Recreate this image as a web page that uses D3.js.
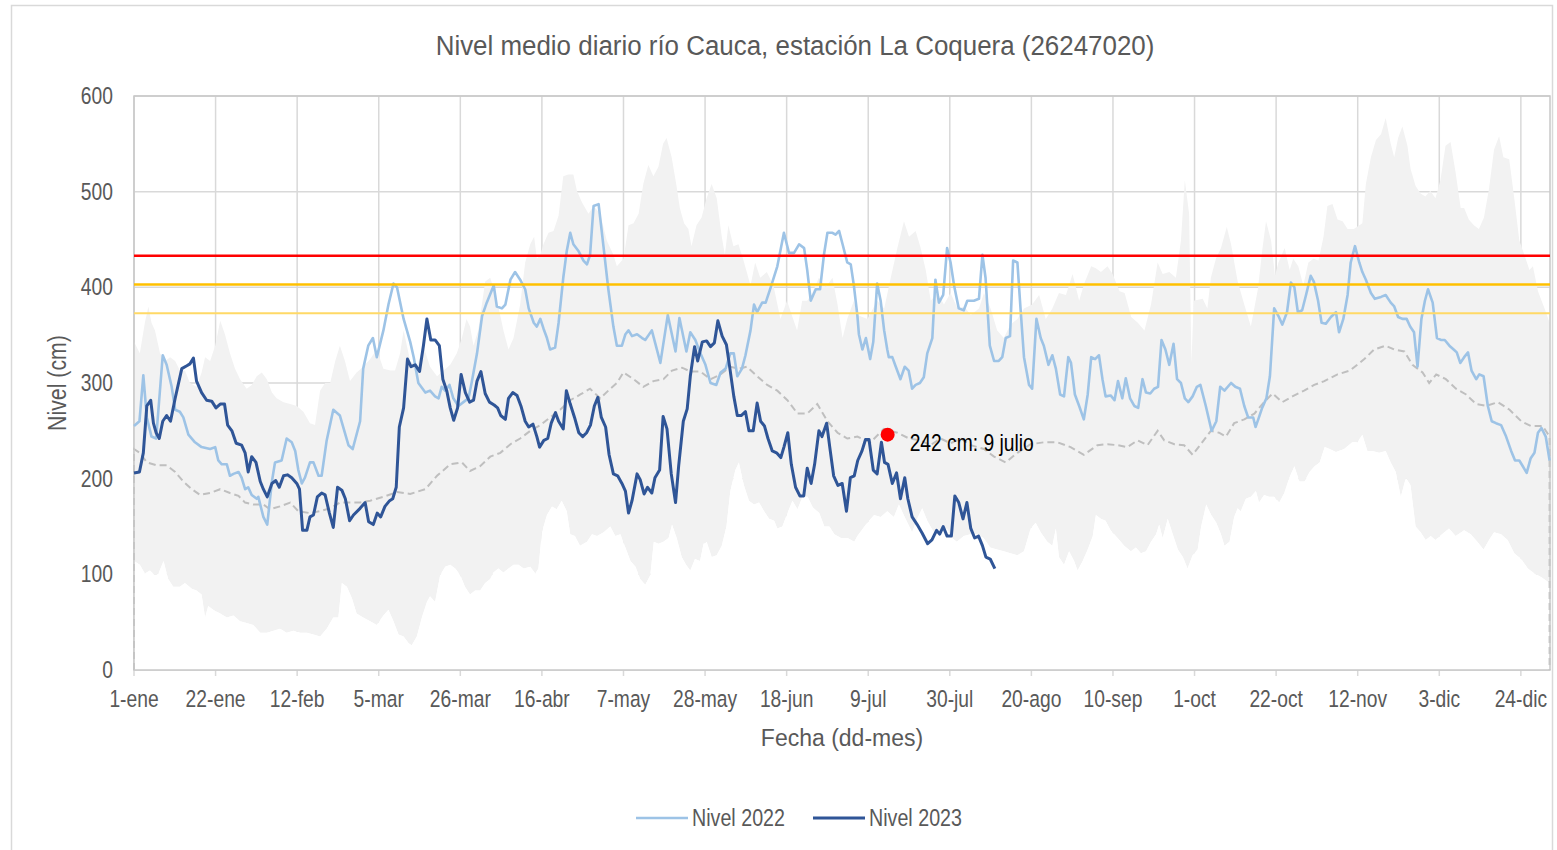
<!DOCTYPE html>
<html>
<head>
<meta charset="utf-8">
<script src="https://cdn.jsdelivr.net/npm/d3@7"></script>
<style>
  body { margin: 0; background: #fff; }
  svg text { font-family: "Liberation Sans", Arial, sans-serif; }
</style>
</head>
<body>
<svg id="chart" width="1557" height="850"></svg>
<script>
// dias del año (0 = 1-ene), niveles en cm
var tickDias = [0, 21, 42, 63, 84, 105, 126, 147, 168, 189, 210, 231, 252, 273, 294, 315, 336, 357];
var tickLabels = ['1-ene', '22-ene', '12-feb', '5-mar', '26-mar', '16-abr', '7-may', '28-may', '18-jun',
                  '9-jul', '30-jul', '20-ago', '10-sep', '1-oct', '22-oct', '12-nov', '3-dic', '24-dic'];
var yTicks = [0, 100, 200, 300, 400, 500, 600];

// umbrales de alerta
var umbrales = [
  {valor: 433, color: '#FF0000', ancho: 2.5},
  {valor: 403, color: '#FFC000', ancho: 2.5},
  {valor: 373, color: '#FFD966', ancho: 2}
];

var nivel2022 = [[0,255],[1.4,260],[2.4,308],[3.3,264],[4.5,244],[5.7,242],[7.4,329],[8.4,319],[9.7,296],[10.6,272],[11.8,270],[12.7,264],[14,246],[15.7,238],[17.4,233],[19.6,231],[20.9,233],[21.7,219],[22.6,215],[23.9,215],[24.7,203],[25.6,205],[26.9,207],[27.7,201],[28.6,189],[29.4,191],[30.3,183],[31.6,179],[32,181],[33.3,160],[34.3,152],[35.5,197],[36.3,217],[38,219],[39.3,242],[40.6,238],[41.5,229],[42.3,209],[43.2,195],[44,201],[45.3,217],[46.2,217],[47.5,203],[48.3,203],[49.6,240],[51.3,272],[53,266],[55.2,235],[56.3,231],[58.2,260],[59,315],[60.3,339],[61.5,347],[62.5,327],[64.2,355],[65.5,382],[66.8,404],[67.7,400],[69.4,367],[71.1,343],[72,327],[73.2,300],[75,290],[76.2,292],[77.5,286],[78.4,284],[79.2,296],[80.1,292],[81.2,298],[82.2,284],[83.5,276],[84.8,280],[86.1,284],[86.9,300],[88.3,331],[89.6,370],[90.8,384],[92.6,402],[93.4,380],[94.7,378],[95.6,382],[96.9,408],[98.1,416],[99.4,408],[100.7,398],[101.6,378],[102.9,363],[103.7,359],[104.6,367],[105.4,357],[106.3,347],[107.1,335],[108.4,337],[109.3,363],[110.5,410],[111.4,438],[112.3,457],[113.1,445],[114.4,438],[115.7,428],[116.6,424],[117.4,434],[118.3,485],[119.6,487],[120.9,441],[122.1,398],[123.4,359],[124.3,339],[125.6,339],[126.5,351],[127.3,355],[128.2,349],[129.5,351],[130.8,347],[131.6,345],[133.3,355],[135.5,321],[137.4,371],[139.4,333],[140.4,368],[142.2,333],[143.2,353],[144.5,345],[145.8,331],[147.1,319],[148.4,300],[149.9,298],[151,311],[152.3,315],[153.5,331],[154.4,331],[155.3,307],[156.5,315],[157.4,329],[158.7,355],[159.6,382],[160.4,374],[161.7,384],[162.6,384],[163.9,400],[165.6,422],[167.3,457],[168.6,436],[169.9,436],[171.2,445],[172.5,441],[173.3,418],[174.2,386],[175.5,398],[176.6,398],[177.6,434],[178.5,457],[179.8,457],[180.6,455],[181.5,459],[182.4,445],[183.6,426],[184.5,424],[185.3,402],[186.2,371],[186.6,351],[187.5,335],[188.4,347],[189.5,325],[190.3,343],[191.3,404],[192.2,386],[193.1,355],[193.9,335],[194.3,327],[195.2,327],[196.1,317],[197.3,304],[198.4,317],[199.4,313],[200.3,294],[201.2,298],[202.3,300],[203.3,306],[204.2,331],[205.5,347],[206.3,408],[207.2,384],[208.3,392],[209.3,441],[210.2,426],[211.1,402],[212.3,378],[213.6,376],[214.5,386],[216.2,386],[217.5,388],[218.4,434],[219.2,410],[220.3,339],[221.4,323],[222.6,323],[223.5,327],[224.4,347],[225.5,349],[226.3,428],[227.4,426],[228.2,378],[229.1,327],[230.4,298],[231.2,294],[232.3,367],[233.4,347],[234.2,339],[235.4,319],[236.4,329],[237.3,315],[238.4,288],[239.4,286],[240.5,327],[241.2,321],[242.2,288],[243.3,276],[244.5,262],[245.5,288],[246.4,327],[247.4,325],[248.4,329],[249.3,304],[250.1,286],[251.4,287],[252.4,282],[253.3,302],[254.4,284],[255.3,305],[256.4,284],[257.5,276],[258.5,274],[259.6,304],[260.5,290],[261.6,289],[262.6,294],[263.6,296],[264.5,345],[265.5,335],[266.5,319],[267.6,341],[268.5,304],[269.5,300],[270.5,284],[271.4,280],[272.5,286],[273.6,296],[274.5,298],[275.9,276],[277.4,250],[278.6,260],[279.6,296],[280.7,292],[282.4,300],[283.5,296],[284.7,294],[285.8,276],[286.8,264],[288.1,264],[288.7,254],[289.4,262],[290.4,274],[291.5,284],[292.4,307],[293.5,378],[294.6,370],[295.6,361],[296.8,374],[297.8,405],[298.7,400],[299.6,374],[300.7,376],[301.7,392],[302.9,412],[303.7,406],[304.8,386],[305.7,363],[306.8,362],[308.1,369],[309.4,374],[310.2,353],[311.3,367],[312.4,392],[313.2,426],[314.3,443],[315.4,426],[316.2,416],[317.1,408],[318.4,394],[319.4,388],[321,390],[322.2,392],[323.5,384],[324.4,380],[325.4,369],[326.5,367],[327.6,367],[328.5,359],[329.5,353],[330.4,317],[331.4,367],[332.3,386],[333.1,398],[334.3,384],[335.4,347],[336.4,345],[337.4,345],[338.6,339],[339.7,335],[340.5,332],[341.4,321],[342.4,327],[343.4,332],[344.3,313],[345.5,304],[346.3,309],[347.4,307],[348.5,276],[349.5,260],[350.6,258],[351.9,256],[353.2,244],[354.5,229],[355.5,219],[356.6,219],[357.5,213],[358.5,206],[359.5,221],[360.5,227],[361.4,248],[362.3,253],[363.4,244],[364.4,219]];

var nivel2023 = [[0,206],[1.4,207],[2.4,227],[3.3,276],[4.3,282],[5,258],[5.7,248],[6.5,242],[7.4,260],[8.4,266],[9.4,260],[10.6,284],[12.3,315],[13.6,318],[14.4,320],[15.3,326],[16.1,302],[17.4,290],[18.7,282],[20,281],[21.1,274],[22.2,278],[23.3,278],[24.1,256],[25.2,250],[26.3,237],[27.7,235],[28.6,227],[29.4,207],[30.3,223],[31.4,217],[32.5,197],[33.3,189],[34.3,181],[35.5,195],[36.5,198],[37.4,191],[38.5,203],[39.5,204],[40.6,201],[41.9,195],[42.6,189],[43.4,146],[44.5,146],[45.3,160],[46.2,162],[47.2,181],[48.3,185],[49.2,183],[50.3,164],[51.3,149],[52.4,191],[53.5,188],[54.4,179],[55.5,156],[56.5,162],[58.2,169],[59.5,175],[60.4,155],[61.6,152],[62.6,164],[63.5,160],[64.6,171],[65.8,177],[66.6,179],[67.5,191],[68.3,254],[69.4,274],[70.4,325],[71.3,317],[72.4,319],[73.5,312],[74.5,339],[75.4,367],[76.4,345],[77.5,345],[78.6,339],[79.5,304],[80.5,292],[81.4,274],[82.3,261],[83.3,274],[84.2,309],[85.3,290],[86.4,280],[87.4,282],[88.3,302],[89.3,312],[90.4,289],[91.5,280],[92.7,277],[93.6,274],[94.4,266],[95.6,262],[96.4,284],[97.5,290],[98.6,287],[99.6,276],[100.7,260],[101.6,254],[102.7,257],[103.7,244],[104.4,233],[105.5,240],[106.5,242],[107.4,258],[108.5,269],[109.3,260],[110.5,252],[111.3,292],[112.3,278],[113.4,264],[114.5,248],[115.5,244],[116.5,248],[117.5,256],[118.5,276],[119.4,285],[120.3,264],[121.4,254],[122.3,225],[123.4,205],[124.5,203],[125.6,195],[126.5,187],[127.3,164],[128.2,177],[129.5,205],[130.3,199],[131.3,184],[132.2,191],[133.3,185],[134.1,201],[135.3,209],[136.2,265],[137.2,252],[138.3,205],[139.4,175],[140.2,213],[141.4,260],[142.4,273],[143.2,307],[144.3,338],[145.1,323],[146.3,343],[147.4,344],[148.4,338],[149.4,342],[150.3,365],[151.4,349],[152.5,340],[153.4,315],[154.4,286],[155.3,266],[156.3,266],[157.4,270],[158.3,250],[159.4,250],[160.4,279],[161.3,260],[162.3,255],[163.2,242],[164.3,229],[165.4,227],[166.5,222],[167.3,233],[168.3,248],[169.2,215],[170.3,191],[171.4,182],[172.4,182],[173.3,211],[174.3,195],[175.2,215],[176.3,250],[177.1,244],[178.3,258],[179.1,233],[180.1,203],[181.2,193],[182.3,195],[183.4,166],[184.4,201],[185.4,203],[186.3,219],[187.4,229],[188.3,241],[189.2,241],[190.3,209],[191.3,205],[192.4,238],[193.2,217],[194.1,215],[195.2,195],[196.3,206],[197.3,179],[198.4,201],[199.2,179],[200.3,160],[201.6,152],[202.9,143],[204.3,132],[205.4,136],[206.6,146],[207.4,142],[208.3,150],[209.3,140],[210.4,140],[211.3,182],[212.3,175],[213.4,158],[214.4,175],[215.4,148],[216.4,138],[217.4,140],[218.4,130],[219.3,118],[220.4,116],[221.6,106]];

var nivelMedio = [[0,0],[0,231],[1.5,227],[3.3,217],[5.8,214],[8.4,214],[10.6,207],[12.7,197],[14.9,189],[17,183],[19.6,185],[22.2,189],[24.7,185],[26.9,182],[28.6,175],[30.7,173],[33.3,173],[35,168],[37.6,171],[40.2,175],[42.3,166],[45.3,164],[47.9,166],[50.5,169],[53,175],[55.6,175],[58.2,175],[60.8,177],[64.2,181],[67.7,186],[71.1,184],[75,189],[78,203],[81.4,215],[84.4,217],[86.5,208],[89.1,213],[91.7,223],[94.3,227],[96.9,236],[99.4,242],[102,250],[104.6,256],[107.1,264],[109.7,272],[112.3,282],[114.9,288],[117.4,294],[120,284],[122.6,294],[124.3,300],[126,311],[128.6,304],[131.1,296],[133.7,302],[136.3,304],[138.5,313],[141.1,316],[143.2,312],[145.8,312],[148.4,304],[151,309],[153.5,317],[155.7,315],[157.8,317],[160.4,307],[163,298],[165.6,292],[168.2,282],[170.8,268],[173.3,268],[175.9,278],[178.5,260],[181.1,248],[183.6,242],[186.2,244],[189.6,238],[193,252],[196.5,248],[199.5,242],[202.5,240],[205,235],[207.6,242],[210.2,237],[212.8,242],[215.4,235],[218.8,231],[221.4,223],[224.4,217],[227.4,227],[230.8,236],[234.2,238],[237.7,238],[241.1,233],[244.5,225],[248,235],[250.6,236],[253.2,235],[255.7,233],[258.3,240],[260.9,235],[263.5,250],[265.2,240],[267.8,236],[270.3,235],[272.5,225],[274.6,236],[277.2,250],[279.3,248],[281.1,244],[283.2,258],[285.8,262],[288.4,268],[290.9,280],[293.1,289],[295.6,280],[298.2,286],[301.2,292],[303.8,298],[306.4,302],[309.8,309],[313,313],[316.7,325],[319.2,335],[322.2,339],[324.4,335],[327,333],[329.1,319],[331.7,311],[333.4,300],[335.2,309],[337.7,304],[340.3,294],[342.9,288],[345.5,278],[348.1,276],[351.1,280],[354.1,272],[357.1,260],[359.6,255],[362.6,255],[364.4,244],[364.4,0]];

var nivelMax = [[0,343],[1.5,331],[2.8,363],[3.7,380],[4.5,363],[5.4,355],[6.7,331],[8,323],[9.3,327],[10.6,323],[11.8,313],[13.1,313],[14.4,300],[16.1,296],[17.4,311],[18.3,327],[19.6,323],[20.9,339],[22.2,365],[23.4,351],[24.7,331],[26,315],[27.3,304],[29,294],[30.3,298],[31.6,307],[32.9,311],[34.2,304],[35.5,290],[36.7,284],[38.5,280],[40.2,278],[41.9,276],[43.6,270],[45.3,258],[46.6,256],[47.9,292],[49.2,300],[50.5,300],[51.8,323],[53,339],[54.3,323],[55.6,302],[57.3,311],[59,317],[60.8,325],[62.5,335],[64.2,315],[66,313],[67.2,313],[68.5,331],[69.4,355],[71.1,323],[72.8,317],[74.5,339],[76.2,317],[78,307],[79.7,313],[81.4,319],[83.1,331],[84.4,347],[85.6,367],[86.5,359],[87.4,339],[88.6,355],[90.4,406],[91.7,410],[92.9,394],[94.2,372],[95.1,355],[96.4,335],[97.7,347],[99.4,382],[100.7,426],[102,445],[103,453],[103.7,430],[104.6,434],[105.4,445],[106.7,457],[108,459],[109.3,475],[110.5,516],[111.8,518],[113.1,518],[114,501],[115.3,489],[117,477],[118.3,485],[120,477],[121.7,449],[123.4,434],[124.3,422],[126,430],[127.3,465],[128.6,467],[129.9,477],[131.1,508],[132.4,528],[133.7,516],[135,526],[136.2,550],[137.1,556],[138.4,536],[139.7,505],[140.5,483],[141.6,467],[142.7,461],[143.5,443],[144.8,465],[146.1,473],[147.4,493],[148.7,508],[150,493],[151.3,453],[152.1,434],[153,465],[154.3,443],[155.6,445],[156.9,428],[158.7,402],[159.9,426],[161.2,410],[162.9,416],[164.6,402],[166.4,367],[168.1,386],[169.4,370],[170.7,355],[172,386],[173.3,386],[174.6,394],[176.3,410],[178.1,400],[179.8,410],[181.1,382],[182.4,347],[183.6,367],[185.3,386],[186.2,371],[188.8,367],[191.3,386],[193.1,378],[194.8,410],[196.5,441],[198.2,469],[199.5,453],[201.2,459],[202.5,441],[203.8,418],[205.1,386],[206.8,394],[208.5,382],[210.2,394],[212,378],[213.7,380],[215.4,371],[217.5,378],[218.8,394],[220.5,378],[222.2,355],[223.9,347],[225.6,361],[227.4,367],[229.1,378],[231.2,382],[233,392],[234.7,367],[236.4,378],[238.1,394],[239.9,392],[241.6,414],[243.3,386],[244.6,404],[246.4,422],[247.6,420],[248.9,416],[250.6,422],[251.9,414],[253.7,396],[255,394],[256.7,369],[258.4,363],[260.1,355],[261.8,382],[263.5,426],[264.8,414],[266.5,416],[268.2,410],[269.5,449],[270.5,512],[271.6,477],[272.2,320],[272.8,386],[275.1,388],[276.3,378],[277.2,410],[278.5,430],[279.8,441],[281.3,463],[282.4,445],[284.1,406],[285.8,382],[287.5,359],[289.3,398],[290.5,441],[291.4,469],[292.7,449],[293.7,412],[294.6,426],[296.2,441],[297.5,418],[298.4,430],[299.7,422],[301,402],[302.3,426],[303.6,430],[304.9,428],[306.2,453],[307.2,485],[308.5,487],[309.8,471],[311.1,469],[312.4,461],[314,461],[316.2,467],[317.1,508],[318.4,536],[319.7,554],[321,560],[322.2,577],[323.5,550],[324.4,536],[325.4,556],[326.5,568],[327.8,548],[328.6,524],[329.9,506],[331.2,498],[332.4,495],[333.7,501],[335,493],[336.3,512],[337.6,548],[338.9,552],[340.2,520],[341.5,483],[342.4,483],[343.6,471],[344.9,465],[346.2,461],[347.5,473],[348.8,503],[350.1,544],[351.4,558],[352.5,536],[354,534],[355.3,493],[356.6,449],[357.9,434],[359.2,418],[360.1,422],[361.4,396],[363.1,378],[364.4,363]];

var nivelMin = [[0,114],[1.5,110],[2.8,101],[4.1,104],[5.4,99],[6.3,101],[7.6,114],[8.8,95],[10.1,87],[11.8,87],[13.1,91],[14.9,85],[16.1,83],[17.4,79],[18.3,55],[19.1,67],[20.4,63],[22.2,59],[23.9,55],[25.6,57],[27.3,51],[29,49],[30.7,47],[32.5,39],[34.2,39],[35.9,41],[37.6,43],[39.3,39],[41,41],[42.8,39],[44.5,39],[46.2,37],[47.9,35],[49.6,43],[51.3,55],[52.6,55],[53.5,91],[54.8,87],[56.1,75],[57.3,59],[59,55],[60.8,51],[62.5,47],[64.2,57],[65.5,63],[66.8,51],[68.1,37],[69.4,35],[70.7,28],[71.5,26],[72.8,35],[74.1,55],[75.4,71],[76.2,77],[77.5,71],[78.8,99],[80.1,108],[81.4,110],[82.7,106],[84,99],[85.2,87],[86.5,79],[87.8,83],[89.1,83],[90.4,91],[91.7,95],[92.5,102],[93.8,106],[95.1,102],[96.4,106],[97.7,110],[99,110],[100.3,106],[102,108],[103.3,101],[104.1,106],[105,144],[106.3,162],[107.6,171],[108.8,168],[110.1,177],[111.4,166],[112.3,142],[113.5,140],[114.8,130],[116.6,134],[117.9,142],[119.2,140],[120.9,144],[122.6,150],[123.9,140],[125.2,142],[126.5,128],[127.8,114],[129.1,108],[130.3,95],[131.6,89],[132.9,99],[133.8,134],[135,132],[136.3,134],[137.6,138],[138.5,152],[139.7,138],[141,118],[142.1,110],[143.2,104],[144.4,116],[145.7,114],[146.6,132],[147.4,134],[148.7,118],[150,120],[151.3,130],[152.5,150],[153.5,187],[154.8,209],[155.7,217],[157,193],[158.3,177],[159.6,173],[160.9,175],[162.2,166],[163.5,158],[164.8,156],[165.6,148],[166.9,150],[168.2,164],[169.5,177],[170.8,168],[172.1,181],[173.4,181],[174.7,170],[176.4,164],[177.7,150],[179,150],[180.3,142],[182,138],[183.7,138],[185.4,134],[186.2,140],[188.4,152],[190.5,162],[192.2,160],[193.9,166],[195.6,160],[196.9,173],[198.6,158],[200.3,144],[201.6,158],[202.9,169],[204.2,156],[205.9,144],[207.6,146],[209.3,148],[210.6,138],[211.8,134],[213.6,140],[215.3,142],[217,142],[218.7,138],[220.4,128],[222.2,126],[223.9,124],[225.6,122],[227.4,120],[229.1,124],[230.8,148],[232.1,154],[233.4,144],[235.1,134],[236.4,130],[237.3,148],[238.1,118],[239.4,110],[240.7,124],[242,114],[242.9,104],[244.2,114],[245.5,126],[246.8,140],[247.6,162],[248.9,158],[250.1,156],[251.4,146],[253.2,138],[254.9,130],[256.6,124],[257.9,128],[259.2,122],[260.5,124],[261.8,134],[263.1,142],[263.9,152],[264.8,138],[266.1,158],[267.4,142],[268.7,126],[270,118],[271.2,106],[272.5,120],[273.8,126],[274.7,150],[276,173],[277.3,162],[278.6,154],[279.8,142],[280.7,130],[282,134],[283.2,160],[284.1,169],[284.9,166],[286.2,179],[287.5,181],[288.8,187],[289.6,175],[290.9,183],[292.2,181],[293.5,181],[294.8,175],[296.1,185],[297.4,201],[298.7,213],[300,197],[301.3,197],[302.6,207],[303.9,213],[305.2,217],[306.5,233],[307.8,231],[309.4,228],[311.5,231],[313.6,238],[314.9,238],[316.2,246],[317.5,229],[318.8,229],[320.5,227],[322.2,229],[323.5,217],[324.8,207],[326.1,181],[327.4,201],[328.6,193],[329.9,150],[331.2,144],[332.5,136],[333.8,140],[335,136],[336.7,142],[338.5,148],[340.2,140],[342.4,146],[344.1,142],[345.8,134],[347.4,126],[348.8,136],[350.1,144],[351.9,142],[353.6,136],[355.3,122],[357.1,116],[358.8,106],[360.5,101],[362.3,97],[364.4,91]];

// punto destacado
var destacado = {dia: 194, valor: 246, texto: '242 cm: 9 julio'};

(function () {
  var svg = d3.select('#chart');
  var pLeft = 134, pRight = 1550, pTop = 96, pBottom = 670;
  var txtColor = '#595959';
  var narrow = 0.82; // imita Arial Narrow

  var x = d3.scaleLinear().domain([0, 364.5]).range([pLeft, pRight]);
  var y = d3.scaleLinear().domain([0, 600]).range([pBottom, pTop]);

  // texto angosto: Liberation Sans comprimido en horizontal
  function narrowText(parent, tx, ty, size, anchor, str, rot, sx) {
    return parent.append('text')
      .attr('transform', 'translate(' + tx + ',' + ty + ')' + (rot ? ' rotate(' + rot + ')' : '') + ' scale(' + (sx || narrow) + ',1)')
      .attr('text-anchor', anchor)
      .attr('font-size', size)
      .attr('fill', txtColor)
      .text(str);
  }

  // marco exterior
  svg.append('rect')
    .attr('x', 11.5).attr('y', 5.5).attr('width', 1541).attr('height', 870)
    .attr('fill', 'none').attr('stroke', '#D9D9D9').attr('stroke-width', 1.5);

  narrowText(svg, 795, 55, 27, 'middle', 'Nivel medio diario río Cauca, estación La Coquera (26247020)', 0, 0.96);

  // rejilla
  var grid = svg.append('g');
  grid.selectAll('line.gx').data(tickDias).enter().append('line')
    .attr('class', 'gx')
    .attr('x1', function(d) { return x(d); }).attr('x2', function(d) { return x(d); })
    .attr('y1', pTop).attr('y2', pBottom + 6)
    .attr('stroke', '#D9D9D9').attr('stroke-width', 1.5);
  grid.selectAll('line.gy').data(yTicks).enter().append('line')
    .attr('class', 'gy')
    .attr('x1', pLeft).attr('x2', pRight)
    .attr('y1', function(d) { return y(d); }).attr('y2', function(d) { return y(d); })
    .attr('stroke', '#D9D9D9').attr('stroke-width', 1.5);

  // banda min-max (gris) y zona bajo el minimo (blanca), ambas opacas
  var lineGen = d3.line().x(function(d) { return x(d[0]); }).y(function(d) { return y(d[1]); });
  var banda = nivelMax.concat(nivelMin.slice().reverse());
  svg.append('path')
    .attr('d', lineGen(banda) + 'Z')
    .attr('fill', '#F2F2F2').attr('stroke', 'none');
  var bajoMin = d3.area()
    .x(function(d) { return x(d[0]); })
    .y0(y(0))
    .y1(function(d) { return y(d[1]); });
  svg.append('path')
    .attr('d', bajoMin(nivelMin))
    .attr('fill', '#FFFFFF').attr('stroke', 'none');

  // media
  svg.append('path')
    .attr('d', lineGen(nivelMedio))
    .attr('fill', 'none').attr('stroke', '#BFBFBF')
    .attr('stroke-width', 2).attr('stroke-dasharray', '7,4');

  // marco del area de trazado
  svg.append('rect')
    .attr('x', pLeft).attr('y', pTop).attr('width', pRight - pLeft).attr('height', pBottom - pTop)
    .attr('fill', 'none').attr('stroke', '#C8C8C8').attr('stroke-width', 1.5);

  svg.append('path')
    .attr('d', lineGen(nivel2022))
    .attr('fill', 'none').attr('stroke', '#9DC3E6')
    .attr('stroke-width', 2.6).attr('stroke-linejoin', 'round');

  svg.append('path')
    .attr('d', lineGen(nivel2023))
    .attr('fill', 'none').attr('stroke', '#2F5597')
    .attr('stroke-width', 3).attr('stroke-linejoin', 'round');

  // umbrales
  svg.selectAll('line.umbral').data(umbrales).enter().append('line')
    .attr('class', 'umbral')
    .attr('x1', pLeft).attr('x2', pRight)
    .attr('y1', function(d) { return y(d.valor); }).attr('y2', function(d) { return y(d.valor); })
    .attr('stroke', function(d) { return d.color; })
    .attr('stroke-width', function(d) { return d.ancho; });

  // punto 9 julio
  svg.append('circle')
    .attr('cx', x(destacado.dia)).attr('cy', y(destacado.valor)).attr('r', 7)
    .attr('fill', '#FF0000');
  narrowText(svg, x(destacado.dia) + 22, y(destacado.valor) + 16, 23.5, 'start', destacado.texto)
    .attr('fill', '#000');

  // etiquetas de ejes
  tickDias.forEach(function(d, i) {
    narrowText(svg, x(d), 707, 23.5, 'middle', tickLabels[i]);
  });
  yTicks.forEach(function(d) {
    narrowText(svg, 113, y(d) + 8, 23.5, 'end', d);
  });

  narrowText(svg, 66, 383, 26, 'middle', 'Nivel (cm)', -90);

  svg.append('text')
    .attr('x', 842).attr('y', 746)
    .attr('text-anchor', 'middle').attr('font-size', 23).attr('fill', txtColor)
    .text('Fecha (dd-mes)');

  // leyenda
  var leyenda = [
    {texto: 'Nivel 2022', color: '#9DC3E6', ancho: 2.5, x0: 636},
    {texto: 'Nivel 2023', color: '#2F5597', ancho: 3, x0: 813}
  ];
  leyenda.forEach(function(d) {
    svg.append('line')
      .attr('x1', d.x0).attr('x2', d.x0 + 52)
      .attr('y1', 818).attr('y2', 818)
      .attr('stroke', d.color).attr('stroke-width', d.ancho);
    narrowText(svg, d.x0 + 56, 826, 24, 'start', d.texto);
  });
})();
</script>
</body>
</html>
